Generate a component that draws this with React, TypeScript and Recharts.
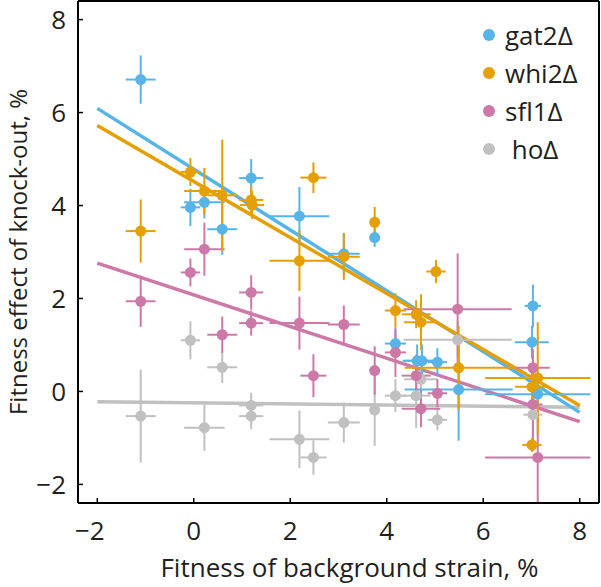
import React from 'react';
import { ComposedChart, XAxis, YAxis, Scatter, Line, ErrorBar, Legend } from 'recharts';

const xTicks = [-2, 0, 2, 4, 6, 8];
const yTicks = [-2, 0, 2, 4, 6, 8];
const seriesNames = ['gat2Δ', 'whi2Δ', 'sfl1Δ', ' hoΔ'];
const seriesColors = ['#56B4E9', '#E69F00', '#CC79A7', '#C0C0C0'];

const gat2 = [
  { x: -1.1, y: 6.71, ex: 0.31, ey: 0.52 },
  { x: -0.07, y: 3.96, ex: 0.2, ey: 0.4 },
  { x: 0.22, y: 4.07, ex: 0.42, ey: 0.35 },
  { x: 0.59, y: 3.49, ex: 0.31, ey: 0.55 },
  { x: 1.19, y: 4.59, ex: 0.25, ey: 0.41 },
  { x: 2.19, y: 3.77, ex: 0.62, ey: 0.63 },
  { x: 3.11, y: 2.96, ex: 0.33, ey: 0.45 },
  { x: 3.75, y: 3.31, ex: 0.1, ey: 0.2 },
  { x: 4.18, y: 1.03, ex: 0.22, ey: 0.3 },
  { x: 4.63, y: 0.66, ex: 0.3, ey: 0.35 },
  { x: 4.73, y: 0.66, ex: 0.35, ey: 0.35 },
  { x: 5.05, y: 0.63, ex: 0.2, ey: 0.3 },
  { x: 5.49, y: 0.04, ex: 1.12, ey: 1.1 },
  { x: 7.03, y: 1.84, ex: 0.17, ey: 0.46 },
  { x: 7.01, y: 1.06, ex: 0.35, ey: 0.35 },
  { x: 7.13, y: -0.06, ex: 1.09, ey: 0.3 },
];

const whi2 = [
  { x: -1.1, y: 3.45, ex: 0.31, ey: 0.68 },
  { x: -0.07, y: 4.72, ex: 0.2, ey: 0.3 },
  { x: 0.22, y: 4.31, ex: 0.42, ey: 0.5 },
  { x: 0.59, y: 4.22, ex: 0.31, ey: 1.2 },
  { x: 1.19, y: 4.12, ex: 0.25, ey: 0.3 },
  { x: 1.21, y: 4.01, ex: 0.25, ey: 0.3 },
  { x: 2.19, y: 2.81, ex: 0.62, ey: 0.65 },
  { x: 2.48, y: 4.6, ex: 0.27, ey: 0.33 },
  { x: 3.11, y: 2.9, ex: 0.33, ey: 0.5 },
  { x: 3.75, y: 3.64, ex: 0.1, ey: 0.33 },
  { x: 4.18, y: 1.74, ex: 0.22, ey: 0.37 },
  { x: 4.61, y: 1.66, ex: 0.3, ey: 0.3 },
  { x: 4.71, y: 1.49, ex: 0.35, ey: 0.6 },
  { x: 5.02, y: 2.58, ex: 0.2, ey: 0.25 },
  { x: 5.49, y: 0.51, ex: 1.12, ey: 0.9 },
  { x: 7.13, y: 0.29, ex: 1.09, ey: 1.2 },
  { x: 7.01, y: 0.1, ex: 0.35, ey: 0.3 },
  { x: 7.01, y: -1.15, ex: 0.2, ey: 0.15 },
];

const sfl1 = [
  { x: -1.1, y: 1.94, ex: 0.31, ey: 0.55 },
  { x: -0.07, y: 2.56, ex: 0.2, ey: 0.3 },
  { x: 0.22, y: 3.06, ex: 0.42, ey: 0.57 },
  { x: 0.59, y: 1.22, ex: 0.31, ey: 0.39 },
  { x: 1.19, y: 2.13, ex: 0.25, ey: 0.37 },
  { x: 1.19, y: 1.47, ex: 0.25, ey: 0.27 },
  { x: 2.19, y: 1.47, ex: 0.62, ey: 0.57 },
  { x: 2.48, y: 0.34, ex: 0.27, ey: 0.46 },
  { x: 3.11, y: 1.44, ex: 0.33, ey: 0.41 },
  { x: 3.75, y: 0.45, ex: 0.1, ey: 0.52 },
  { x: 4.18, y: 0.84, ex: 0.22, ey: 0.53 },
  { x: 4.61, y: 0.34, ex: 0.3, ey: 0.45 },
  { x: 4.71, y: -0.37, ex: 0.4, ey: 0.4 },
  { x: 5.05, y: -0.04, ex: 0.2, ey: 0.3 },
  { x: 5.47, y: 1.77, ex: 1.12, ey: 1.2 },
  { x: 7.03, y: 0.51, ex: 0.35, ey: 0.4 },
  { x: 7.03, y: -0.28, ex: 0.2, ey: 1.0 },
  { x: 7.13, y: -1.42, ex: 1.09, ey: 1.0 },
];

const ho = [
  { x: -1.1, y: -0.53, ex: 0.31, ey: 1.0 },
  { x: -0.07, y: 1.1, ex: 0.2, ey: 0.41 },
  { x: 0.22, y: -0.78, ex: 0.42, ey: 0.5 },
  { x: 0.59, y: 0.52, ex: 0.31, ey: 0.34 },
  { x: 1.19, y: -0.3, ex: 0.25, ey: 0.27 },
  { x: 1.19, y: -0.53, ex: 0.25, ey: 0.28 },
  { x: 2.19, y: -1.03, ex: 0.62, ey: 0.62 },
  { x: 2.48, y: -1.42, ex: 0.27, ey: 0.37 },
  { x: 3.11, y: -0.67, ex: 0.33, ey: 0.43 },
  { x: 3.75, y: -0.4, ex: 0.1, ey: 0.77 },
  { x: 4.18, y: -0.09, ex: 0.22, ey: 0.35 },
  { x: 4.61, y: -0.09, ex: 0.3, ey: 0.7 },
  { x: 4.71, y: 0.26, ex: 0.35, ey: 0.5 },
  { x: 5.05, y: -0.61, ex: 0.2, ey: 0.23 },
  { x: 5.47, y: 1.11, ex: 1.12, ey: 0.4 },
  { x: 7.03, y: -0.5, ex: 0.2, ey: 0.5 },
];

const fitGat2 = [{ x: -2, y: 6.09 }, { x: 8, y: -0.45 }];
const fitWhi2 = [{ x: -2, y: 5.72 }, { x: 8, y: -0.3 }];
const fitSfl1 = [{ x: -2, y: 2.76 }, { x: 8, y: -0.65 }];
const fitHo = [{ x: -2, y: -0.22 }, { x: 8, y: -0.34 }];

const FONT = '"Open Sans", sans-serif';
const TXT = '#231F20';
const FS = 26;

const fmt = (v: number) => (v < 0 ? '\u2212' + Math.abs(v) : String(v));

const BottomTick = (props: any) => {
  const { x, y, payload } = props;
  const v = payload.value as number;
  return (
    <g>
      <text x={x} y={y} dy="0.71em" textAnchor="middle" fill={TXT} fontSize={FS} fontFamily={FONT}>
        {Math.abs(v)}
      </text>
      {v < 0 && (
        <text x={x - 7.5} y={y} dy="0.71em" textAnchor="end" fill={TXT} fontSize={FS} fontFamily={FONT}>
          {'\u2212'}
        </text>
      )}
    </g>
  );
};

const Dot = (color: string) => (p: any) => <circle cx={p.cx} cy={p.cy} r={5.5} fill={color} />;

const renderLegend = () => (
  <div style={{ fontFamily: FONT, fontSize: FS, color: TXT }}>
    {seriesNames.map((n, i) => (
      <div key={n} style={{ display: 'flex', alignItems: 'center', height: 38 }}>
        <svg width={12} height={12} style={{ flex: 'none' }}>
          <circle cx={6} cy={6} r={6} fill={seriesColors[i]} />
        </svg>
        <span style={{ marginLeft: 10, lineHeight: '38px', whiteSpace: 'pre' }}>{n}</span>
      </div>
    ))}
  </div>
);

const axisLine = { stroke: '#000', strokeWidth: 2 };
const tickLine = { stroke: '#000', strokeWidth: 1.5 };

const series = [
  { name: seriesNames[3], color: seriesColors[3], data: ho },
  { name: seriesNames[0], color: seriesColors[0], data: gat2 },
  { name: seriesNames[2], color: seriesColors[2], data: sfl1 },
  { name: seriesNames[1], color: seriesColors[1], data: whi2 },
];

const fits = [
  { color: seriesColors[3], data: fitHo },
  { color: seriesColors[2], data: fitSfl1 },
  { color: seriesColors[0], data: fitGat2 },
  { color: seriesColors[1], data: fitWhi2 },
];

export default function App() {
  return (
    <div style={{ position: 'absolute', left: 0, top: 0, background: '#fff' }}>
      <ComposedChart width={601} height={587} margin={{ top: 0, right: 1, bottom: 0, left: 0 }}>
        <XAxis
          dataKey="x"
          type="number"
          domain={[-2.4, 8.4]}
          ticks={xTicks}
          interval={0}
          allowDataOverflow
          height={84}
          axisLine={axisLine}
          tickLine={tickLine}
          tickSize={-5}
          tickMargin={24}
          tick={BottomTick}
          label={{
            value: 'Fitness of background strain, %',
            position: 'insideBottom',
            offset: 10,
            dx: 11,
            fill: TXT,
            fontSize: FS,
            fontFamily: FONT,
          }}
        />
        <XAxis
          xAxisId="top"
          orientation="top"
          type="number"
          domain={[-2.4, 8.4]}
          ticks={xTicks}
          interval={0}
          allowDataOverflow
          height={1}
          axisLine={axisLine}
          tickLine={tickLine}
          tickSize={-5}
          tick={false}
        />
        <YAxis
          dataKey="y"
          type="number"
          domain={[-2.4, 8.4]}
          ticks={yTicks}
          interval={0}
          allowDataOverflow
          width={78}
          axisLine={axisLine}
          tickLine={tickLine}
          tickSize={-5}
          tickMargin={17}
          tickFormatter={fmt}
          tick={{ fill: TXT, fontSize: FS, fontFamily: FONT }}
          label={{
            value: 'Fitness effect of knock-out, %',
            angle: -90,
            position: 'insideLeft',
            offset: 18,
            style: { textAnchor: 'middle' },
            fill: TXT,
            fontSize: 24,
            fontFamily: FONT,
          }}
        />
        <YAxis
          yAxisId="right"
          orientation="right"
          type="number"
          domain={[-2.4, 8.4]}
          ticks={yTicks}
          interval={0}
          allowDataOverflow
          width={1}
          axisLine={axisLine}
          tickLine={tickLine}
          tickSize={-5}
          tick={false}
        />
        {fits.map((f, i) => (
          <Line
            key={'fit' + i}
            data={f.data}
            dataKey="y"
            stroke={f.color}
            strokeWidth={3.5}
            dot={false}
            activeDot={false}
            legendType="none"
            isAnimationActive={false}
          />
        ))}
        {series.map((s) => (
          <Scatter key={s.name} name={s.name} data={s.data} fill={s.color} shape={Dot(s.color)} isAnimationActive={false}>
            <ErrorBar dataKey="ex" direction="x" width={0} stroke={s.color} strokeWidth={2} />
            <ErrorBar dataKey="ey" direction="y" width={0} stroke={s.color} strokeWidth={2} />
          </Scatter>
        ))}
        <Legend
          content={renderLegend}
          layout="vertical"
          align="center"
          verticalAlign="middle"
          wrapperStyle={{ top: 16, left: 483, width: 118, height: 'auto' }}
        />
      </ComposedChart>
    </div>
  );
}
